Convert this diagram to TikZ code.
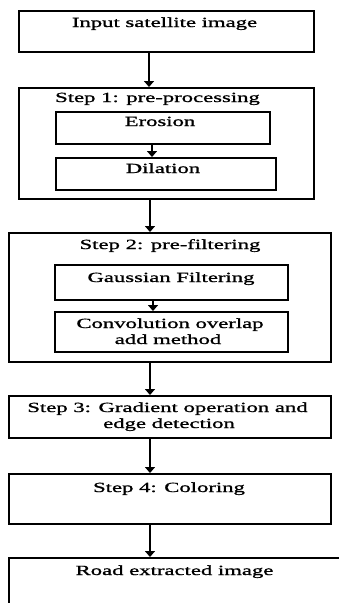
\documentclass[tikz,border=0pt]{standalone}
\usepackage{fontspec}
\setmainfont{Liberation Serif}[FakeStretch=1.62, FakeBold=1.2]
\usetikzlibrary{arrows.meta}
\tikzset{
  box/.style={draw=black, line width=1.5pt, rectangle, inner sep=0pt, anchor=north west},
  lbl/.style={anchor=base, inner sep=0pt, font=\fontsize{14}{16}\selectfont},
  flow/.style={draw=black, line width=1.7pt, -{Triangle[width=10pt,length=6pt]}}
}
\begin{document}
\begin{tikzpicture}[x=1pt,y=-1pt]
  \useasboundingbox (0,0) rectangle (339,603);
  \clip (0,0) rectangle (339,603);

  % outer stages
  \node[box, minimum width=295pt, minimum height=41pt] (input) at (18,10) {};
  \node[box, minimum width=295pt, minimum height=111pt] (s1) at (18,87) {};
  \node[box, minimum width=322pt, minimum height=129pt] (s2) at (8,232) {};
  \node[box, minimum width=322pt, minimum height=42pt] (s3) at (8,395) {};
  \node[box, minimum width=322pt, minimum height=50pt] (s4) at (8,473) {};
  \node[box, minimum width=345pt, minimum height=70pt] (out) at (8,557) {};

  % inner steps
  \node[box, minimum width=214pt, minimum height=32pt] (ero) at (55,111) {};
  \node[box, minimum width=220pt, minimum height=32pt] (dil) at (55,157) {};
  \node[box, minimum width=233pt, minimum height=35pt] (gau) at (54,264) {};
  \node[box, minimum width=233pt, minimum height=40pt] (conv) at (54,311) {};

  % labels
  \node[lbl] (tinput) at (164.5,27) {Input satellite image};
  \node[lbl] (ts1) at (157.5,102) {Step 1: pre-processing};
  \node[lbl] (tero) at (160,126) {Erosion};
  \node[lbl] (tdil) at (163,173) {Dilation};
  \node[lbl] (ts2) at (170,249) {Step 2: pre-filtering};
  \node[lbl] (tgau) at (171,282) {Gaussian Filtering};
  \node[lbl] (tconv1) at (170,328) {Convolution overlap};
  \node[lbl] (tconv2) at (168,344) {add method};
  \node[lbl] (ts3a) at (167.5,412) {Step 3: Gradient operation and};
  \node[lbl] (ts3b) at (169,428) {edge detection};
  \node[lbl] (ts4) at (169,492) {Step 4: Coloring};
  \node[lbl] (tout) at (174.5,575) {Road extracted image};

  % connectors
  \coordinate (a0) at (149,51);   \coordinate (a1) at (149,87);
  \coordinate (b0) at (152,143);  \coordinate (b1) at (152,157);
  \coordinate (c0) at (150,198);  \coordinate (c1) at (150,232);
  \coordinate (d0) at (153,299);  \coordinate (d1) at (153,311);
  \coordinate (e0) at (150,361);  \coordinate (e1) at (150,395);
  \coordinate (f0) at (150,437);  \coordinate (f1) at (150,473);
  \coordinate (g0) at (150,523);  \coordinate (g1) at (150,557);
  \draw[flow] (a0) -- (a1);
  \draw[flow] (b0) -- (b1);
  \draw[flow] (c0) -- (c1);
  \draw[flow] (d0) -- (d1);
  \draw[flow] (e0) -- (e1);
  \draw[flow] (f0) -- (f1);
  \draw[flow] (g0) -- (g1);
\end{tikzpicture}
\end{document}
